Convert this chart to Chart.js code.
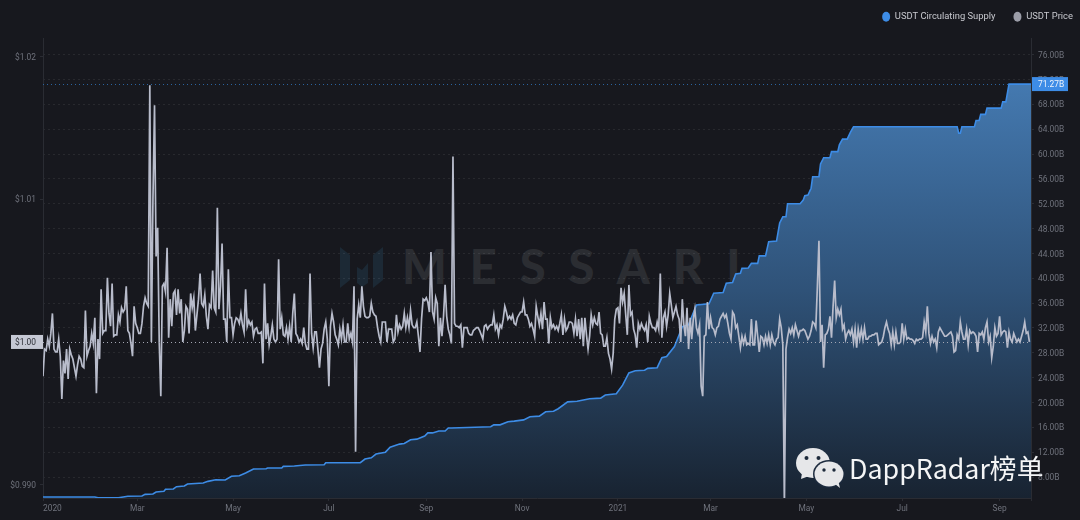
<!DOCTYPE html>
<html>
<head>
<meta charset="utf-8">
<style>
  html, body { margin: 0; padding: 0; background: #17181e; }
  #wrap { position: relative; width: 1080px; height: 520px; overflow: hidden; }
  #chart { position: absolute; left: 0; top: 0; z-index: 2; filter: blur(0.3px); }
  .mark { position: absolute; left: 0; top: 0; z-index: 1; }
  #wm { position: absolute; left: 402px; top: 238px; z-index: 1; font: 900 47px/56px Lato, sans-serif; letter-spacing: 23px; color: #2b2d32; white-space: nowrap; }
  #stamp { position: absolute; left: 849px; top: 450px; z-index: 3; font: 26.8px/36px "Noto Sans CJK SC", "Noto Sans", sans-serif; color: #f4f5f6; white-space: nowrap; }
  #stampIcon { position: absolute; left: 0; top: 0; z-index: 3; }
</style>
</head>
<body>
<div id="wrap">
  <svg class="mark" width="1080" height="520">
    <g fill="#1c2935">
      <polygon points="340,247 350,255 350,280 340,288"/>
      <polygon points="357,267 362,270 368,263 368,283 362,287 357,283"/>
      <polygon points="373,255 383,247 383,280 373,288"/>
    </g>
  </svg>
  <div id="wm">MESSARI</div>
  <canvas id="chart" width="1080" height="520"></canvas>
  <svg id="stampIcon" width="1080" height="520">
    <ellipse cx="813" cy="463" rx="17" ry="15" fill="#e6e7e9"/>
    <polygon points="802,473 801,479 809,476" fill="#e6e7e9"/>
    <ellipse cx="829" cy="474" rx="16" ry="14" fill="#1c2a3d"/>
    <ellipse cx="829" cy="474" rx="14.5" ry="12.5" fill="#e6e7e9"/>
    <polygon points="835,484 840,488 838,480" fill="#e6e7e9"/>
    <g fill="#1d2a3b">
      <circle cx="806.5" cy="458" r="2"/><circle cx="818.5" cy="458" r="2"/>
      <circle cx="824" cy="470" r="1.7"/><circle cx="834" cy="470" r="1.7"/>
    </g>
  </svg>
  <div id="stamp">DappRadar榜单</div>
</div>
<script src="https://cdn.jsdelivr.net/npm/chart.js@4/dist/chart.umd.min.js"></script>
<script>
const seriesNames = ['USDT Circulating Supply', 'USDT Price'];
const seriesColors = ['#3d8ce6', '#9b9da8'];

// x axis is days since 1 Jan 2020
const tickDays = [0, 60, 121, 182, 244, 305, 366, 425, 486, 547, 609, 629];
const tickLabels = ['2020', 'Mar', 'May', 'Jul', 'Sep', 'Nov', '2021', 'Mar', 'May', 'Jul', 'Sep', ''];
const priceTicks = [0.99, 1.00, 1.01, 1.02];
const supplyTicks = [8, 12, 16, 20, 24, 28, 32, 36, 40, 44, 48, 52, 56, 60, 64, 68, 72, 76];

// supply in billions, breakpoints of the stepped curve
const supplyDays = [0, 33, 35, 48, 54, 63, 65, 70, 72, 77, 78, 83, 85, 90, 92, 102, 105, 110, 116, 120, 125, 129, 134, 142, 143, 152, 153, 160, 167, 179, 180, 202,
  205, 209, 212, 218, 221, 227, 230, 234, 238, 243, 245, 248, 252, 256, 258, 260, 285, 287, 291, 296, 300, 306, 310, 316, 320, 325, 328, 334, 340, 348, 355, 358, 365, 369, 373, 377, 383, 385, 391, 394, 397, 402, 405, 407, 411, 413, 416, 424, 427, 433, 435, 439, 441, 444, 445, 449, 451, 455, 456, 460, 462, 467, 469, 471, 473, 474,
  482, 484, 485, 487, 489, 490, 494, 495, 497, 501, 502, 506, 507, 509, 512, 514, 516, 582, 583, 584, 585, 593, 594, 596, 597, 600, 601, 610, 611, 613, 615, 629];
const supplyValues = [4.78, 4.78, 4.67, 4.67, 4.89, 4.94, 5.2, 5.26, 5.58, 5.69, 6.02, 6.07, 6.44, 6.55, 6.87, 7.03, 7.3, 7.56, 7.51, 8.11, 8.2, 8.64, 9.29, 9.33, 9.45, 9.45, 9.72, 9.77, 9.93, 9.98, 10.3, 10.3,
  10.9, 11.1, 11.7, 12, 12.8, 13.3, 13.4, 14, 14.1, 14.6, 15.1, 15.1, 15.4, 15.4, 15.9, 15.9, 16.1, 16.4, 16.4, 16.9, 17, 17.2, 17.7, 17.8, 18.5, 18.6, 19, 20.1, 20.2, 20.6, 20.7, 21.2, 21.4, 22.8, 24.75, 25.1, 25.2, 25.5, 25.6, 27.2, 27.4, 29, 30.9, 32.2, 32.5, 33.8, 35.7, 35.9, 37.6, 37.7, 39.2, 39.3, 40.7, 40.8, 41.6, 41.65, 42.4, 42.4, 43.6, 43.6, 45.9, 46, 48.9, 49.9, 49.9, 52,
  52, 52.6, 53.3, 53.4, 54.5, 56.35, 56.35, 58.4, 59.4, 59.4, 60.4, 60.4, 61.5, 62.4, 62.4, 63.5, 64.4, 64.4, 63.35, 63.35, 64.4, 64.4, 65.4, 65.4, 66.4, 66.4, 67.4, 67.4, 68.4, 68.4, 71.27, 71.27];

// daily price, one array per stretch of the chart
const priceJan2020 = [
  0.9976, 0.9995, 0.9994, 1.0002, 0.9997, 1.0006, 1.0020, 0.9995, 0.9993, 0.9993,
  1.0002, 0.9990, 0.9960, 0.9987, 0.9978, 0.9995, 0.9974, 0.9995, 0.9991, 0.9988,
  0.9982, 0.9976, 0.9984, 0.9990, 0.9988, 0.9983, 0.9982, 1.0022, 0.9990, 0.9994,
  0.9997, 1.0006, 0.9999, 1.0017, 0.9964, 1.0002, 0.9988, 1.0037, 1.0006, 1.0008,
  1.0008, 1.0045, 1.0020, 1.0011, 1.0041, 1.0004, 1.0005, 1.0005, 1.0019, 1.0014,
  1.0024, 1.0021, 1.0023, 1.0039, 1.0008, 1.0006, 0.9999, 0.9990, 1.0025, 1.0013,
  1.0010, 1.0006, 1.0006, 1.0013, 1.0025, 1.0031, 1.0027, 1.0025, 1.0180, 1.0000,
  1.0100, 1.0166, 1.0060, 1.0080, 1.0000, 0.9962, 1.0039, 1.0041, 1.0035, 1.0066,
  1.0003, 1.0030, 1.0011, 1.0034, 1.0036, 1.0019, 1.0037, 1.0020, 1.0030, 1.0000];
const priceApr2020 = [
  1.0008, 1.0025, 1.0023, 1.0006, 1.0034, 1.0024, 1.0031, 1.0008, 1.0019, 1.0030,
  1.0048, 1.0027, 1.0025, 1.0033, 1.0018, 1.0009, 1.0026, 1.0024, 1.0050, 1.0024,
  1.0021, 1.0094, 1.0023, 1.0039, 1.0069, 1.0016, 1.0016, 1.0000, 1.0051, 1.0017,
  1.0017, 1.0005, 1.0013, 1.0017, 1.0016, 1.0013, 1.0020, 1.0012, 1.0007, 1.0037,
  1.0011, 1.0015, 1.0012, 1.0014, 1.0004, 1.0009, 1.0010, 1.0006, 1.0006, 1.0007,
  0.9985, 1.0041, 1.0002, 1.0013, 0.9998, 1.0004, 1.0012, 1.0002, 1.0000, 1.0002,
  1.0058, 1.0009, 1.0017, 1.0005, 1.0004, 1.0010, 1.0002, 1.0011, 1.0000, 1.0020,
  1.0034, 1.0006, 1.0004, 1.0000, 1.0002, 0.9999, 1.0010, 0.9999, 0.9995, 0.9995,
  1.0048, 1.0006, 0.9996, 1.0007, 1.0007, 0.9995, 0.9982, 0.9995, 0.9999, 1.0009];
const priceJul2020 = [
  1.0014, 1.0002, 0.9969, 1.0011, 1.0020, 1.0014, 1.0005, 1.0002, 0.9998, 1.0009,
  1.0002, 1.0012, 1.0000, 1.0000, 1.0013, 1.0002, 1.0006, 1.0000, 1.0039, 0.9923,
  1.0016, 1.0026, 1.0017, 1.0039, 1.0025, 1.0018, 1.0017, 1.0017, 1.0018, 1.0027,
  1.0021, 1.0019, 1.0018, 1.0010, 1.0004, 1.0000, 1.0014, 1.0014, 1.0014, 1.0000,
  1.0009, 1.0009, 1.0009, 1.0000, 1.0002, 1.0019, 1.0007, 1.0012, 1.0009, 1.0011,
  1.0020, 1.0010, 1.0017, 1.0010, 1.0022, 1.0012, 1.0010, 1.0010, 1.0014, 1.0004,
  0.9993, 1.0016, 1.0030, 1.0029, 1.0031, 1.0028, 1.0021, 1.0063, 1.0021, 1.0016,
  1.0031, 1.0027, 0.9997, 1.0017, 1.0004, 1.0018, 1.0040, 1.0018, 1.0009, 1.0005,
  0.9999, 1.0130, 1.0013, 1.0011, 1.0011, 1.0010, 1.0012, 0.9996, 1.0010, 1.0010];
const priceOct2020 = [
  1.0010, 1.0006, 1.0005, 1.0005, 1.0008, 1.0009, 1.0010, 1.0010, 1.0008, 1.0005,
  1.0002, 1.0011, 1.0012, 1.0009, 1.0011, 1.0012, 1.0012, 1.0019, 1.0009, 1.0012,
  1.0005, 1.0012, 1.0010, 1.0016, 1.0025, 1.0021, 1.0016, 1.0018, 1.0016, 1.0019,
  1.0013, 1.0012, 1.0017, 1.0019, 1.0021, 1.0021, 1.0028, 1.0019, 1.0019, 1.0016,
  1.0011, 1.0013, 1.0009, 1.0004, 1.0025, 1.0018, 1.0012, 1.0020, 1.0009, 1.0028,
  1.0016, 1.0016, 0.9999, 1.0017, 1.0010, 1.0012, 1.0009, 1.0011, 1.0008, 1.0013,
  1.0019, 1.0005, 1.0016, 1.0008, 1.0010, 1.0014, 1.0014, 1.0013, 1.0006, 1.0016,
  1.0004, 1.0016, 1.0002, 1.0017, 0.9997, 1.0017, 1.0005, 0.9995, 1.0004, 1.0019,
  1.0012, 1.0017, 1.0013, 1.0012, 1.0021, 1.0006, 1.0005, 0.9997, 0.9997];
const priceDec2020 = [
  1.0003, 0.9992, 0.9988, 0.9981, 0.9992, 1.0016, 1.0023, 1.0024, 1.0013, 1.0038,
  1.0028, 1.0034, 1.0019, 1.0005, 1.0040, 1.0019, 1.0021, 1.0009, 1.0005, 0.9996,
  1.0013, 1.0009, 1.0013, 1.0010, 1.0008, 1.0012, 1.0000, 1.0018, 1.0013, 1.0010,
  1.0010, 1.0008, 1.0014, 1.0009, 1.0048, 1.0003, 1.0017, 1.0021, 1.0011, 1.0019,
  1.0034, 1.0026, 1.0017, 1.0021, 1.0025, 1.0019, 1.0016, 1.0000, 1.0030, 1.0012,
  1.0004, 1.0024, 0.9995, 1.0017, 1.0002, 1.0016, 1.0023, 1.0010, 1.0006, 1.0012,
  0.9969, 0.9962, 1.0004, 1.0005, 1.0028, 1.0009, 1.0017, 1.0010, 1.0009, 1.0005,
  1.0010, 1.0011, 1.0016, 1.0018, 1.0020, 1.0017, 1.0019, 1.0013, 1.0006, 1.0002,
  1.0021, 1.0019, 1.0010, 1.0012, 1.0004, 0.9996, 1.0004, 0.9999, 1.0004, 0.9998];
const priceMar2021 = [
  0.9999, 0.9998, 1.0016, 0.9998, 0.9998, 1.0015, 1.0004, 0.9993, 1.0004, 1.0003,
  0.9998, 1.0004, 0.9999, 1.0005, 0.9998, 1.0005, 1.0000, 0.9998, 1.0002, 1.0003,
  1.0016, 1.0010, 0.9998, 0.9885, 0.9995, 1.0003, 1.0009, 1.0006, 1.0010, 1.0005,
  1.0012, 1.0008, 1.0004, 1.0008, 1.0008, 1.0009, 1.0008, 1.0005, 1.0002, 1.0004,
  1.0008, 1.0014, 1.0013, 1.0010, 1.0039, 1.0071, 1.0000, 1.0012, 0.9982, 1.0005,
  1.0006, 1.0009, 1.0018, 1.0003, 1.0025, 1.0043, 1.0017, 1.0023, 1.0019, 1.0023,
  1.0009, 1.0012, 1.0002, 1.0006, 1.0008, 1.0005, 1.0009, 1.0000, 1.0009, 0.9996,
  1.0009, 1.0002, 1.0009, 1.0002, 1.0010, 1.0002, 1.0002, 1.0004, 1.0004, 1.0005,
  1.0005, 1.0006, 1.0006, 0.9998, 0.9999, 1.0000, 1.0004, 1.0010, 1.0014, 1.0009];
const priceJun2021 = [
  1.0006, 0.9998, 1.0007, 0.9998, 1.0007, 0.9999, 0.9999, 1.0000, 1.0013, 1.0002,
  1.0009, 1.0002, 1.0003, 1.0002, 1.0002, 1.0001, 0.9999, 1.0002, 1.0001, 1.0002,
  1.0002, 1.0003, 1.0014, 1.0007, 1.0025, 1.0006, 0.9999, 1.0004, 1.0000, 1.0002,
  0.9996, 1.0007, 1.0010, 1.0008, 1.0006, 1.0004, 1.0004, 1.0005, 1.0006, 1.0007,
  1.0004, 0.9993, 0.9994, 1.0005, 1.0002, 1.0014, 1.0007, 1.0002, 1.0002, 1.0009,
  0.9998, 1.0008, 1.0006, 1.0007, 1.0006, 1.0004, 0.9993, 1.0006, 1.0005, 1.0007,
  1.0002, 1.0010, 1.0014, 1.0000, 1.0004, 0.9989, 0.9997, 1.0010, 1.0004, 1.0006,
  1.0018, 1.0005, 1.0007, 1.0008, 1.0007, 0.9996, 1.0007, 1.0002, 1.0000, 1.0006,
  1.0003, 1.0000, 1.0002, 1.0000, 1.0004, 1.0008, 1.0014, 1.0006, 1.0007, 1.0000];

const prices = [].concat(priceJan2020, priceApr2020, priceJul2020, priceOct2020, priceDec2020, priceMar2021, priceJun2021);
const lastSupply = supplyValues[supplyValues.length - 1];
const lastPrice = prices[prices.length - 1];

const gridColor = 'rgba(255,255,255,0.075)';
const axisColor = '#2a2c33';
const tickColor = '#6f727c';
const tickFont = { family: 'Roboto, sans-serif', size: 8.4 };

const tagsPlugin = {
  id: 'tags',
  beforeInit(chart) {
    const legend = chart.legend;
    const fit = legend.fit;
    const draw = legend.draw;
    legend.fit = function () {
      fit.call(this);
      this.height = 38;
    };
    // nudge the legend up and right, the chart area stays where it is
    legend.draw = function () {
      const top = this.top;
      const right = this.right;
      this.top = top - 6;
      this.right = right + 11;
      draw.call(this);
      this.top = top;
      this.right = right;
    };
  },
  beforeDatasetsDraw(chart) {
    const { ctx, chartArea: a, scales } = chart;
    const yS = Math.round(scales.y1.getPixelForValue(lastSupply));
    ctx.save();
    ctx.lineWidth = 1;
    ctx.setLineDash([1, 3]);
    ctx.strokeStyle = '#2a639f';
    ctx.beginPath();
    ctx.moveTo(a.left, yS + 0.5);
    ctx.lineTo(a.right, yS + 0.5);
    ctx.stroke();
    ctx.restore();
  },
  afterDatasetsDraw(chart) {
    const { ctx, chartArea: a, scales } = chart;
    const yP = scales.y.getPixelForValue(1.0);
    ctx.save();
    ctx.lineWidth = 1;
    ctx.setLineDash([1, 3]);
    ctx.strokeStyle = '#a4a7b4';
    ctx.beginPath();
    ctx.moveTo(a.left, Math.round(yP) + 0.5);
    ctx.lineTo(a.right, Math.round(yP) + 0.5);
    ctx.stroke();
    ctx.restore();
  },
  afterDraw(chart) {
    const { ctx, scales } = chart;
    const yS = scales.y1.getPixelForValue(lastSupply);
    const yP = scales.y.getPixelForValue(1.0);
    ctx.save();
    ctx.font = '8.4px Roboto, sans-serif';
    ctx.textBaseline = 'middle';

    ctx.fillStyle = '#3d8ce6';
    ctx.fillRect(1032, yS - 7, 36, 14);
    ctx.fillStyle = '#eef4fc';
    ctx.textAlign = 'left';
    ctx.fillText(lastSupply.toFixed(2) + 'B', 1038, yS + 0.5);

    ctx.fillStyle = '#c5c8d4';
    ctx.fillRect(11, yP - 7, 32, 14);
    ctx.fillStyle = '#2c2e36';
    ctx.textAlign = 'right';
    ctx.fillText('$' + lastPrice.toFixed(2), 36, yP + 0.5);
    ctx.restore();
  }
};

new Chart(document.getElementById('chart'), {
  type: 'line',
  data: {
    datasets: [
      {
        label: seriesNames[1],
        data: prices.map((v, i) => ({ x: i, y: v })),
        yAxisID: 'y',
        borderColor: '#b8bccb',
        borderWidth: 1.7,
        pointRadius: 0,
        tension: 0,
        order: 1
      },
      {
        label: seriesNames[0],
        data: supplyDays.map((d, i) => ({ x: d, y: supplyValues[i] })),
        yAxisID: 'y1',
        borderColor: '#3d8ce6',
        borderWidth: 1.6,
        pointRadius: 0,
        tension: 0,
        fill: 'start',
        backgroundColor(c) {
          const a = c.chart.chartArea;
          if (!a) return 'transparent';
          const g = c.chart.ctx.createLinearGradient(0, 83, 0, a.bottom);
          g.addColorStop(0, '#4479b0');
          g.addColorStop(0.5, '#2f5278');
          g.addColorStop(1, '#182331');
          return g;
        },
        order: 2
      }
    ]
  },
  options: {
    responsive: false,
    animation: false,
    devicePixelRatio: 1,
    layout: { padding: 0 },
    plugins: {
      tooltip: { enabled: false },
      legend: {
        position: 'top',
        align: 'end',
        labels: {
          color: '#c9cad0',
          font: { family: 'Roboto, sans-serif', size: 9.4 },
          usePointStyle: true,
          pointStyleWidth: 8,
          boxHeight: 7,
          padding: 18,
          generateLabels: () => seriesNames.map((n, i) => ({
            text: n,
            fillStyle: seriesColors[i],
            strokeStyle: seriesColors[i],
            fontColor: '#c9cad0',
            lineWidth: 0,
            pointStyle: 'circle',
            datasetIndex: i
          }))
        }
      }
    },
    scales: {
      x: {
        type: 'linear',
        min: 0,
        max: 629,
        afterFit(s) { s.height = 22; },
        afterBuildTicks(s) { s.ticks = tickDays.map(v => ({ value: v })); },
        grid: { drawOnChartArea: false, tickLength: 3, tickColor: axisColor },
        border: { color: axisColor },
        ticks: {
          color: tickColor,
          font: tickFont,
          padding: 3,
          align: 'inner',
          autoSkip: false,
          maxRotation: 0,
          callback: v => tickLabels[tickDays.indexOf(v)]
        }
      },
      y: {
        position: 'left',
        min: 0.98906,
        max: 1.02131,
        afterFit(s) { s.width = 43; },
        afterBuildTicks(s) { s.ticks = priceTicks.map(v => ({ value: v })); },
        grid: { drawOnChartArea: false, tickLength: 3, tickColor: axisColor },
        border: { color: axisColor },
        ticks: {
          color: tickColor,
          font: tickFont,
          padding: 4,
          labelOffset: 1,
          callback: v => v < 0.995 ? '$' + v.toFixed(3) : '$' + v.toFixed(2)
        }
      },
      y1: {
        position: 'right',
        min: 4.62,
        max: 78.69,
        afterFit(s) { s.width = 49; },
        afterBuildTicks(s) { s.ticks = supplyTicks.map(v => ({ value: v })); },
        grid: { color: gridColor, tickLength: 3, tickColor: axisColor },
        border: { color: axisColor, dash: [2, 3] },
        ticks: {
          color: tickColor,
          font: tickFont,
          padding: 4,
          labelOffset: 1,
          autoSkip: false,
          callback: v => v.toFixed(2) + 'B'
        }
      }
    }
  },
  plugins: [tagsPlugin]
});
</script>
</body>
</html>
